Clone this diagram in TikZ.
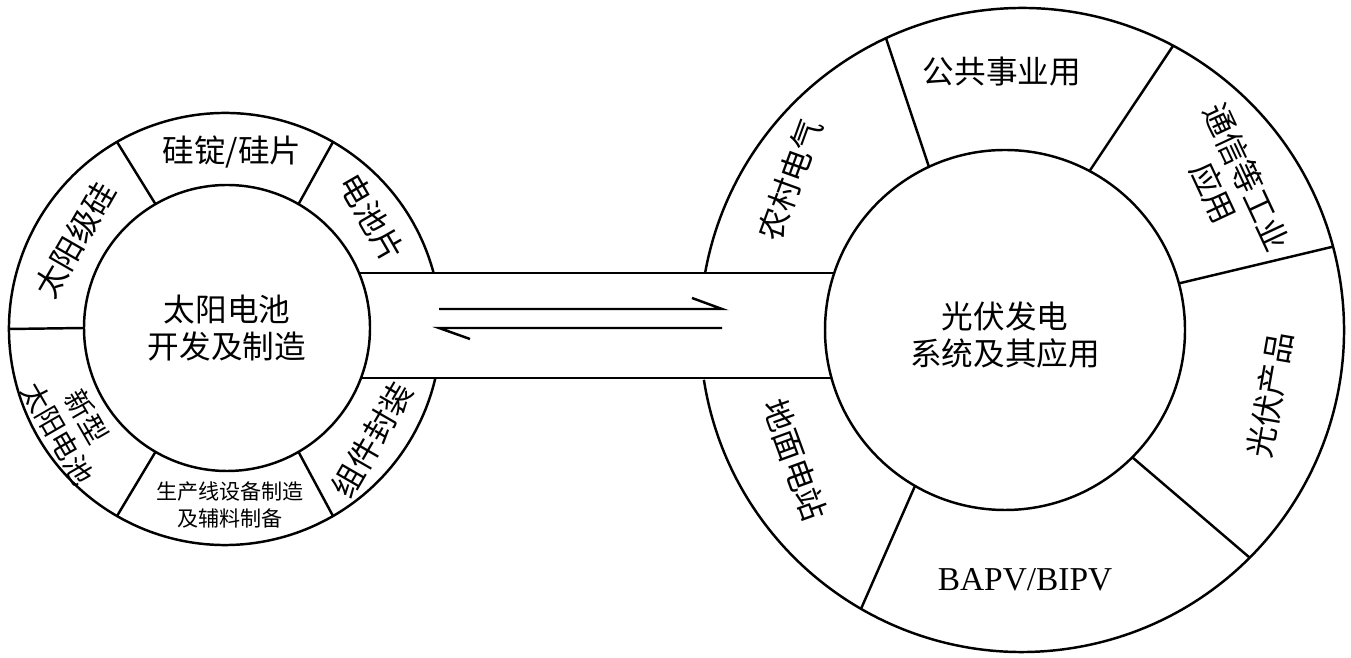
\documentclass[tikz,border=0pt]{standalone}
\usepackage{fontspec}
\setmainfont{Liberation Serif}
\newfontfamily\cjk{Noto Sans CJK SC}
\usetikzlibrary{calc}
\tikzset{
    lbl/.style={font=\cjk\fontsize{18}{21}\selectfont, align=center, inner sep=0pt},
    small/.style={font=\cjk\fontsize{12}{15}\selectfont, align=center, inner sep=0pt},
    ln/.style={line width=1.4pt}
}
\begin{document}
\begin{tikzpicture}[x=0.02cm, y=0.02cm]
    \useasboundingbox (0, 0) rectangle (1351, 658);

    \coordinate (lo) at (225, 329);
    \coordinate (li) at (227, 330);
    \coordinate (ro) at (1022, 328);
    \coordinate (ri) at (1005, 328);

    % left wheel
    \draw[ln] (li) circle (143);
    \draw[ln] ($(lo)+(15:216)$) arc (15:346.9:216);
    \foreach \a in {180, 120, 60, 300, 240}
        \draw[ln] ($(li)+(\a:143)$) -- ($(lo)+(\a:216)$);

    % right wheel
    \draw[ln] (ri) circle (180);
    \draw[ln] ($(ro)+(188.9:322)$) arc (188.9:529.8:322);
    \foreach \a in {115, 62, 15, -45, -120}
        \draw[ln] ($(ri)+(\a:180)$) -- ($(ro)+(\a:322)$);

    % band
    \draw[ln] (359, 385) -- (834, 385);
    \draw[ln] (361, 280) -- (832, 280);

    \coordinate (ta) at (439, 349);
    \coordinate (tb) at (722, 349);
    \coordinate (ba) at (439, 330);
    \coordinate (bb) at (722, 330);
    \draw[ln] (ta) -- (tb) -- (692, 360);
    \draw[ln] (bb) -- (ba) -- (470, 319);

    \node[lbl] (lc) at (227, 330) {太阳电池\\开发及制造};
    \node[lbl, rotate=60] (l1) at (75, 418) {太阳级硅};
    \node[lbl] (l2) at (232, 506) {硅锭/硅片};
    \node[lbl, rotate=-60] (l3) at (372, 440) {电池片};
    \node[lbl, rotate=60] (l4) at (372, 218) {组件封装};
    \node[small] (l5) at (230, 153) {生产线设备制造\\及辅料制备};
    \node[lbl, rotate=-60, font=\cjk\fontsize{16}{19}\selectfont] (l6) at (72, 233) {新型\\太阳电池};

    \node[lbl] (rc) at (1005, 323) {光伏发电\\系统及其应用};
    \node[lbl, rotate=70] (r1) at (790, 478) {农村电气};
    \node[lbl] (r2) at (1002, 586) {公共事业用};
    \node[lbl, rotate=-65] (r3) at (1230, 473) {通信等工业\\应用};
    \node[lbl, rotate=80] (r4) at (1270, 263) {光伏产品};
    \node[lbl, font=\fontsize{19}{22}\selectfont] (r5) at (1025, 78) {BAPV/BIPV};
    \node[lbl, rotate=-70] (r6) at (795, 198) {地面电站};
\end{tikzpicture}
\end{document}
